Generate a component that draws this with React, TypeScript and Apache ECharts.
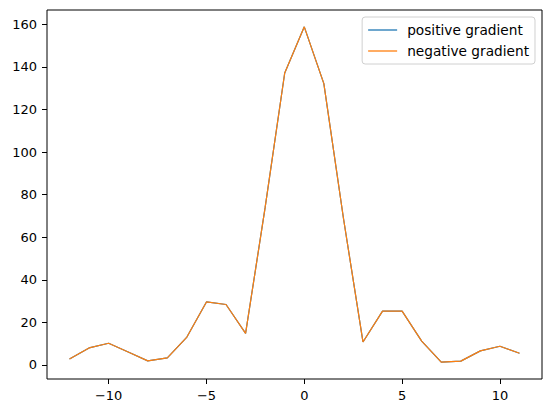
import React, { useEffect, useRef } from "react";
import * as echarts from "echarts";

const xValues = [-12, -11, -10, -9, -8, -7, -6, -5, -4, -3, -2, -1, 0, 1, 2, 3, 4, 5, 6, 7, 8, 9, 10, 11];
const positiveGradient = [2.8, 8.0, 10.2, 6.1, 1.9, 3.3, 13.1, 29.6, 28.4, 14.8, 74, 137.1, 158.8, 132.1, 69, 10.8, 25.3, 25.3, 11.2, 1.3, 1.8, 6.6, 8.8, 5.5];
const negativeGradient = [2.8, 8.0, 10.2, 6.1, 1.9, 3.3, 13.1, 29.6, 28.4, 14.8, 74, 137.1, 158.8, 132.1, 69, 10.8, 25.3, 25.3, 11.2, 1.3, 1.8, 6.6, 8.8, 5.5];
const xTicks = [-10, -5, 0, 5, 10];
const yTicks = [0, 20, 40, 60, 80, 100, 120, 140, 160];
const seriesNames = ["positive gradient", "negative gradient"];

const FONT = "DejaVu Sans";
const fmt = (v: number) => String(v).replace("-", "\u2212");

export default function App() {
  const ref = useRef<HTMLDivElement>(null);
  useEffect(() => {
    if (!ref.current) return;
    const chart = echarts.init(ref.current, undefined, { renderer: "svg" });
    chart.setOption({
      animation: false,
      backgroundColor: "#fff",
      grid: {
        left: 47,
        right: 10,
        top: 10,
        bottom: 34,
        show: true,
        borderColor: "#000",
        borderWidth: 1,
        backgroundColor: "transparent",
      },
      legend: {
        orient: "vertical",
        right: 17,
        top: 17,
        data: seriesNames,
        icon: "rect",
        backgroundColor: "rgba(255,255,255,0.8)",
        borderColor: "#d0d0d0",
        borderWidth: 1,
        borderRadius: 3,
        padding: [5, 6, 5, 6],
        itemGap: 5,
        itemWidth: 29,
        itemHeight: 1.3,
        textStyle: { fontFamily: FONT, fontSize: 13.7, color: "#000", padding: [0, 0, 0, 5], lineHeight: 16 },
      },
      xAxis: {
        type: "value",
        min: -13.15,
        max: 12.15,
        axisLine: { show: false, onZero: false },
        splitLine: { show: false },
        axisTick: { show: true, length: 5, lineStyle: { color: "#000", width: 1 }, customValues: xTicks },
        axisLabel: {
          customValues: xTicks,
          formatter: fmt,
          margin: 10,
          fontFamily: FONT,
          fontSize: 13,
          color: "#000",
        },
      },
      yAxis: {
        type: "value",
        min: -6.6,
        max: 166.7,
        axisLine: { show: false, onZero: false },
        splitLine: { show: false },
        axisTick: { show: true, length: 5, lineStyle: { color: "#000", width: 1 }, customValues: yTicks },
        axisLabel: {
          customValues: yTicks,
          formatter: fmt,
          margin: 10,
          fontFamily: FONT,
          fontSize: 13,
          color: "#000",
        },
      },
      series: [
        {
          name: seriesNames[0],
          type: "line",
          symbol: "none",
          data: xValues.map((x, i) => [x, positiveGradient[i]]),
          lineStyle: { color: "#1f77b4", width: 1.2 },
          itemStyle: { color: "#1f77b4" },
        },
        {
          name: seriesNames[1],
          type: "line",
          symbol: "none",
          data: xValues.map((x, i) => [x, negativeGradient[i]]),
          lineStyle: { color: "#ff7f0e", width: 1.2 },
          itemStyle: { color: "#ff7f0e" },
        },
      ],
    });
    return () => chart.dispose();
  }, []);
  return <div ref={ref} style={{ width: 552, height: 413, position: "fixed", left: 0, top: 0 }} />;
}
